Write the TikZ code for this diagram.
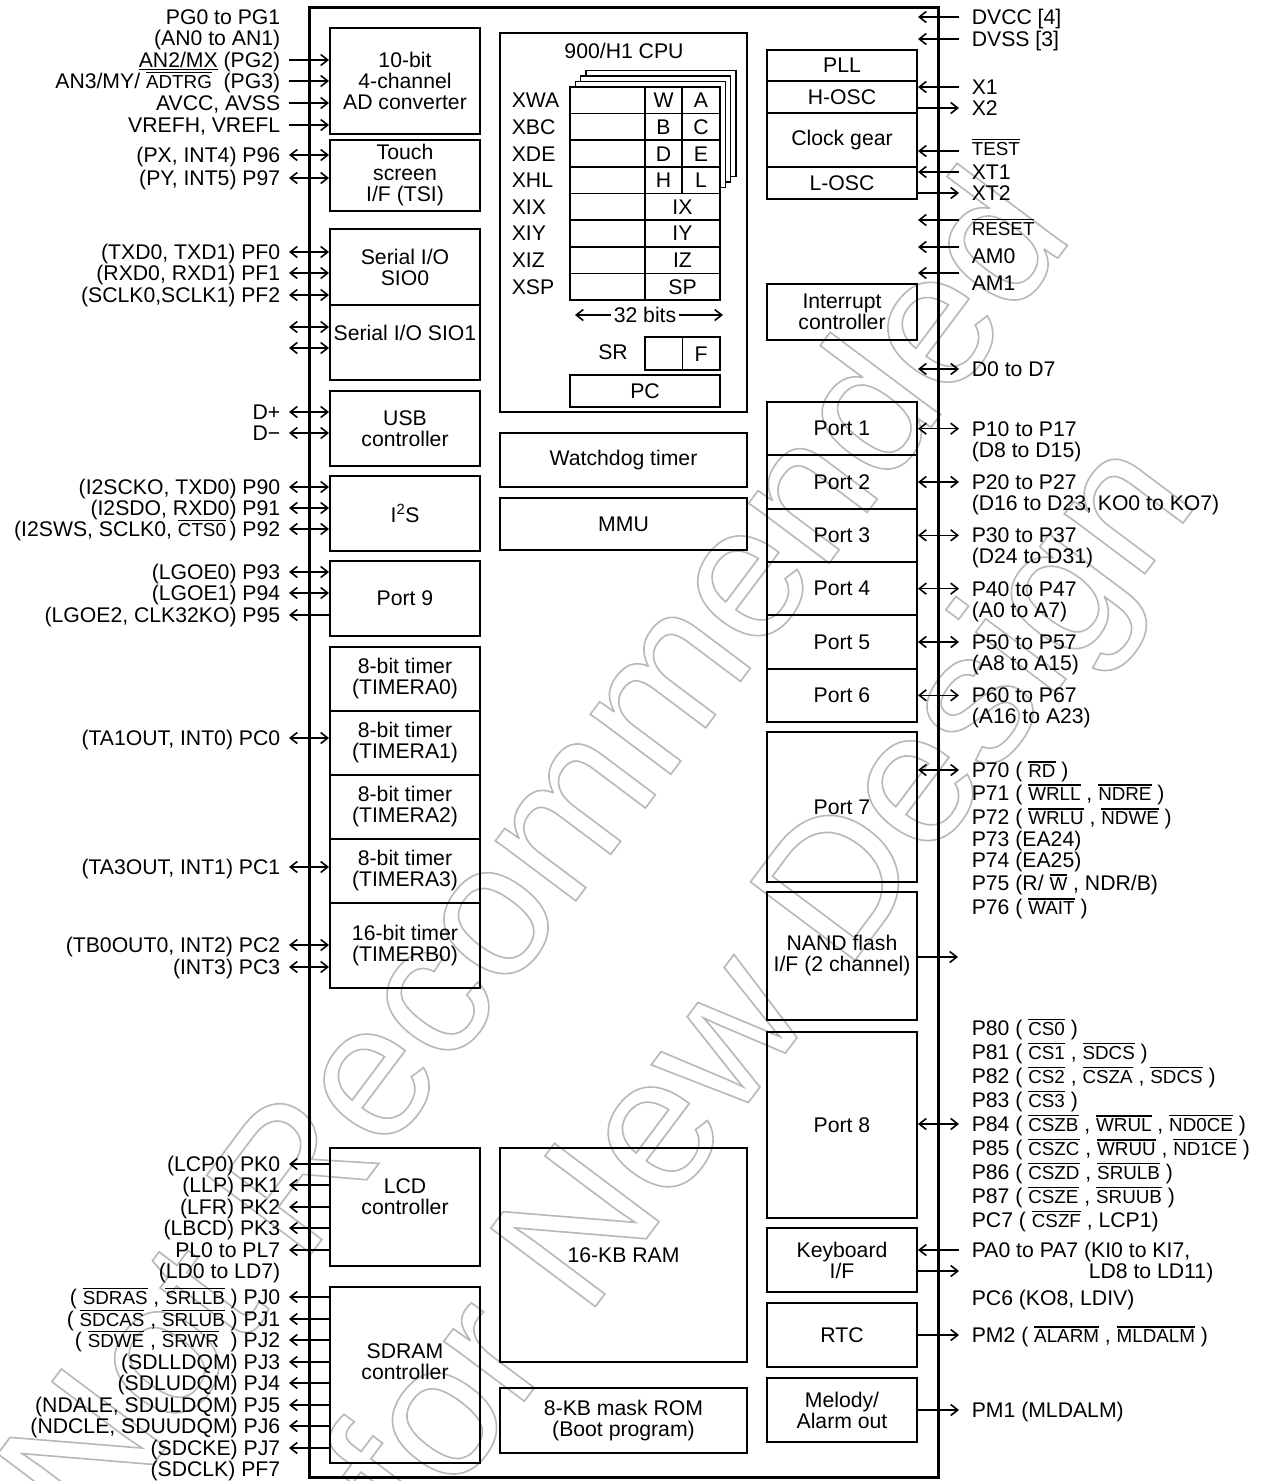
\documentclass[tikz,border=0pt]{standalone}
\usepackage{fontspec}
\setmainfont{Liberation Sans}
\usetikzlibrary{arrows.meta}
\newcommand{\pinfont}{\fontsize{21.2}{21}\selectfont}
\newcommand{\ovl}[1]{\leavevmode\vbox{\hrule height 1.2pt\kern 2pt\hbox{\fontsize{18.8}{18.8}\selectfont #1}}}
\newcommand{\outlined}[1]{\special{pdf:literal direct 1 Tr 1.6 w}#1\special{pdf:literal direct 0 Tr}}
\tikzset{
  blk/.style={draw, line width=2pt, inner sep=0pt, align=center, font=\pinfont},
  blkL/.style={blk, minimum width=150},
  blkC/.style={blk, minimum width=247},
  blkR/.style={blk, minimum width=150},
  txt/.style={inner sep=0pt, font=\pinfont, text height=15pt, text depth=0pt},
  pinl/.style={txt, anchor=east},
  pinr/.style={txt, anchor=west},
  stamp/.style={anchor=base, inner sep=0pt, rotate=53.13, text=black!28, font=\fontsize{190}{190}\selectfont},
}
\begin{document}
\begin{tikzpicture}[x=1pt,y=-1pt,line width=1.6pt,>={Straight Barb[length=7pt,width=11pt]}]
\useasboundingbox (0,0) rectangle (1261,1481);
\fill[white] (0,0) rectangle (1261,1481);

% stamp
\node[stamp] (stamp1) at (584,890) {\outlined{Not Recommended}};
\node[stamp] (stamp2) at (811,1019) {\outlined{for New Design}};

% chip outline
\node[draw, line width=3pt, minimum width=629, minimum height=1470] (chip) at (623.5,742) {};

% left column
\node[blkL, minimum height=106] (adc) at (405,81) {10-bit\\4-channel\\AD converter};
\node[blkL, minimum height=71] (tsi) at (405,175.5) {Touch\\screen\\I/F (TSI)};
\node[blkL, minimum height=76] (sio0) at (405,267) {Serial I/O\\SIO0};
\node[blkL, minimum height=75, text depth=19pt] (sio1) at (405,342.5) {Serial I/O SIO1};
\node[blkL, minimum height=75] (usb) at (405,428.5) {USB\\controller};
\node[blkL, minimum height=75] (i2s) at (405,513.5) {I\textsuperscript{2}S};
\node[blkL, minimum height=75] (port9) at (405,598.5) {Port 9};
\foreach \i in {0,...,3}
  \node[blkL, minimum height=64] (tma\i) at (405,679+64*\i) {8-bit timer\\(TIMERA\i)};
\node[blkL, minimum height=85] (tmb0) at (405,945.5) {16-bit timer\\(TIMERB0)};
\node[blkL, minimum height=118, text depth=20pt] (lcd) at (405,1207) {LCD\\controller};
\node[blkL, minimum height=176, text depth=26pt] (sdram) at (405,1375) {SDRAM\\controller};

% centre column
\node[blkC, minimum height=379] (cpu) at (623.5,222.5) {};
\node[blkC, minimum height=54] (wdt) at (623.5,460) {Watchdog timer};
\node[blkC, minimum height=52] (mmu) at (623.5,524) {MMU};
\node[blkC, minimum height=214] (ram) at (623.5,1255) {16-KB RAM};
\node[blkC, minimum height=65] (rom) at (623.5,1420.5) {8-KB mask ROM\\(Boot program)};

% right column
\node[blkR, minimum height=31] (pll) at (842,65.5) {PLL};
\node[blkR, minimum height=32] (hosc) at (842,97) {H-OSC};
\node[blkR, minimum height=54] (cg) at (842,140) {Clock gear};
\node[blkR, minimum height=32] (losc) at (842,183) {L-OSC};
\node[blkR, minimum height=56] (intc) at (842,312) {Interrupt\\controller};
\foreach \i in {1,...,6}
  \node[blkR, minimum height=53.33] (port\i) at (842,{402+53.33*(\i-0.5)}) {Port \i};
\node[blkR, minimum height=150] (port7) at (842,807) {Port 7};
\node[blkR, minimum height=128] (nand) at (842,956) {NAND flash\\I/F (2 channel)};
\node[blkR, minimum height=186] (port8) at (842,1125) {Port 8};
\node[blkR, minimum height=64] (kbd) at (842,1260) {Keyboard\\I/F};
\node[blkR, minimum height=64] (rtc) at (842,1335) {RTC};
\node[blkR, minimum height=64] (mel) at (842,1410) {Melody/\\Alarm out};

% CPU register file
\node[txt] (cputitle) at (624,51) {900/H1 CPU};
\foreach \k in {3,2,1}
  \draw[fill=white] (570+5.3*\k,87-5.5*\k) rectangle (720+5.3*\k,193-5.5*\k);
\draw[fill=white] (570,87) rectangle (720,300);
\foreach \r/\nm in {0/XWA,1/XBC,2/XDE,3/XHL,4/XIX,5/XIY,6/XIZ,7/XSP} {
  \draw (570,{87+26.625*\r}) -- (720,{87+26.625*\r});
  \node[txt, anchor=west] (r\nm) at (511,{100.3+26.625*\r}) {\nm};
}
\draw (645,87) -- (645,300);
\draw (682,87) -- (682,193.5);
\foreach \r/\a/\b in {0/W/A,1/B/C,2/D/E,3/H/L} {
  \node[txt] (b\a) at (663.5,{100.3+26.625*\r}) {\a};
  \node[txt] (b\b) at (701,{100.3+26.625*\r}) {\b};
}
\foreach \r/\a in {4/IX,5/IY,6/IZ,7/SP}
  \node[txt] (w\a) at (682.5,{100.3+26.625*\r}) {\a};
\node[txt, fill=white, inner xsep=2pt] (bits) at (645,315) {32 bits};
\coordinate (bitsL) at (575,315);
\coordinate (bitsR) at (723,315);
\draw[->] (bits.west) -- (bitsL);
\draw[->] (bits.east) -- (bitsR);
\node[txt] (srlbl) at (613,352) {SR};
\node[draw, minimum width=75, minimum height=33] (sr) at (682.5,353.5) {};
\draw (sr.north) -- (sr.south);
\node[txt] (flag) at (701,353.5) {F};
\node[draw, minimum width=150, minimum height=32, txt, text height=15pt] (pc) at (645,391) {PC};

% left pins
\node[pinl] (pg01) at (281,17) {PG0 to PG1};
\node[pinl] (an01) at (281,38) {(AN0 to AN1)};
\foreach \n/\y/\t in {pg2/60/{\underline{AN2/MX} (PG2)}, pg3/81/{AN3/MY/ \ovl{ADTRG}\ \ (PG3)},
    avcc/103/{AVCC, AVSS}, vref/125/{VREFH, VREFL}} {
  \node[pinl] (\n) at (281,\y) {\t};
  \draw[->] ([xshift=8]\n.east) -- (\n -| adc.west);
}
\foreach \n/\y/\t in {p96/155/{(PX, INT4) P96}, p97/178/{(PY, INT5) P97}} {
  \node[pinl] (\n) at (281,\y) {\t};
  \draw[<->] ([xshift=8]\n.east) -- (\n -| tsi.west);
}
\foreach \n/\y/\t in {pf0/252/{(TXD0, TXD1) PF0}, pf1/273/{(RXD0, RXD1) PF1}, pf2/295/{(SCLK0,SCLK1) PF2}} {
  \node[pinl] (\n) at (281,\y) {\t};
  \draw[<->] ([xshift=8]\n.east) -- (\n -| sio0.west);
}
\foreach \n/\y in {s1a/327, s1b/348} {
  \coordinate (\n) at (289,\y);
  \draw[<->] (\n) -- (\n -| sio1.west);
}
\foreach \n/\y/\t in {dp/412/{D+}, dm/433/{D−}} {
  \node[pinl] (\n) at (281,\y) {\t};
  \draw[<->] ([xshift=8]\n.east) -- (\n -| usb.west);
}
\foreach \n/\y/\t in {p90/487/{(I2SCKO, TXD0) P90}, p91/508/{(I2SDO, RXD0) P91},
    p92/529/{(I2SWS, SCLK0, \ovl{CTS0}\,) P92}} {
  \node[pinl] (\n) at (281,\y) {\t};
  \draw[<->] ([xshift=8]\n.east) -- (\n -| i2s.west);
}
\foreach \n/\y/\t in {p93/572/{(LGOE0) P93}, p94/593/{(LGOE1) P94}} {
  \node[pinl] (\n) at (281,\y) {\t};
  \draw[<->] ([xshift=8]\n.east) -- (\n -| port9.west);
}
\node[pinl] (p95) at (281,615) {(LGOE2, CLK32KO) P95};
\draw[<-] ([xshift=8]p95.east) -- (p95 -| port9.west);
\node[pinl] (pc0) at (281,738) {(TA1OUT, INT0) PC0};
\draw[<->] ([xshift=8]pc0.east) -- (pc0 -| tma1.west);
\node[pinl] (pc1) at (281,867) {(TA3OUT, INT1) PC1};
\draw[<->] ([xshift=8]pc1.east) -- (pc1 -| tma3.west);
\foreach \n/\y/\t in {pc2/945/{(TB0OUT0, INT2) PC2}, pc3/967/{(INT3) PC3}} {
  \node[pinl] (\n) at (281,\y) {\t};
  \draw[<->] ([xshift=8]\n.east) -- (\n -| tmb0.west);
}
\foreach \n/\y/\t in {pk0/1164/{(LCP0) PK0}, pk1/1185/{(LLP) PK1}, pk2/1207/{(LFR) PK2},
    pk3/1228/{(LBCD) PK3}, pl/1250/{PL0 to PL7}} {
  \node[pinl] (\n) at (281,\y) {\t};
  \draw[<-] ([xshift=8]\n.east) -- (\n -| lcd.west);
}
\node[pinl] (ld) at (281,1271) {(LD0 to LD7)};
\foreach \n/\y/\t in {pj0/1297/{( \ovl{SDRAS} , \ovl{SRLLB} ) PJ0}, pj1/1319/{( \ovl{SDCAS} , \ovl{SRLUB} ) PJ1},
    pj2/1340/{( \ovl{SDWE} , \ovl{SRWR}\ \ ) PJ2}, pj3/1362/{(SDLLDQM) PJ3}, pj4/1383/{(SDLUDQM) PJ4},
    pj5/1405/{(NDALE, SDULDQM) PJ5}, pj6/1426/{(NDCLE, SDUUDQM) PJ6}, pj7/1448/{(SDCKE) PJ7}} {
  \node[pinl] (\n) at (281,\y) {\t};
  \draw[<-] ([xshift=8]\n.east) -- (\n -| sdram.west);
}
\node[pinl] (pf7) at (281,1469) {(SDCLK) PF7};

% right pins
\node[pinr] (dvcc) at (971,17) {DVCC [4]};
\node[pinr] (dvss) at (971,39) {DVSS [3]};
\draw[->] ([xshift=-12]dvcc.west) -- (dvcc -| pll.east);
\draw[->] ([xshift=-12]dvss.west) -- (dvss -| pll.east);
\node[pinr] (x1) at (971,87) {X1};
\node[pinr] (x2) at (971,108) {X2};
\draw[->] ([xshift=-12]x1.west) -- (x1 -| hosc.east);
\draw[->] (x2 -| hosc.east) -- ([xshift=-12]x2.west);
\node[pinr] (test) at (971,148) {\ovl{TEST}};
\coordinate (testA) at (959,151);
\draw[->] (testA) -- (testA -| cg.east);
\node[pinr] (xt1) at (971,172) {XT1};
\node[pinr] (xt2) at (971,193) {XT2};
\draw[->] ([xshift=-12]xt1.west) -- (xt1 -| losc.east);
\draw[->] (xt2 -| losc.east) -- ([xshift=-12]xt2.west);
\foreach \n/\y/\ya/\t in {reset/228/220/{\ovl{RESET}}, am0/256/247/{AM0}, am1/283/273/{AM1}} {
  \node[pinr] (\n) at (971,\y) {\t};
  \coordinate (\n A) at (959,\ya);
  \draw[->] (\n A) -- (\n A -| pll.east);
}
\node[pinr] (d07) at (971,369) {D0 to D7};
\draw[<->] (d07 -| intc.east) -- ([xshift=-12]d07.west);
\foreach \i/\sub in {1/{(D8 to D15)}, 2/{(D16 to D23, KO0 to KO7)}, 3/{(D24 to D31)},
    4/{(A0 to A7)}, 5/{(A8 to A15)}, 6/{(A16 to A23)}} {
  \node[pinr] (pa\i) at (971,{402+53.33*(\i-0.5)}) {P\i0 to P\i7};
  \node[pinr] (pb\i) at (971,{423+53.33*(\i-0.5)}) {\sub};
  \draw[<->] (port\i.east) -- ([xshift=-12]pa\i.west);
}
\node[pinr] (p70) at (971,770) {P70 ( \ovl{RD} )};
\draw[<->] (p70 -| port7.east) -- ([xshift=-12]p70.west);
\foreach \n/\y/\t in {p71/793/{P71 ( \ovl{WRLL} , \ovl{NDRE} )}, p72/817/{P72 ( \ovl{WRLU} , \ovl{NDWE} )},
    p73/839/{P73 (EA24)}, p74/860/{P74 (EA25)}, p75/883/{P75 (R/ \ovl{W} , NDR/B)}, p76/907/{P76 ( \ovl{WAIT} )}}
  \node[pinr] (\n) at (971,\y) {\t};
\coordinate (nandA) at (958,957);
\draw[->] (nandA -| nand.east) -- (nandA);
\foreach \n/\y/\t in {p80/1028/{P80 ( \ovl{CS0} )}, p81/1052/{P81 ( \ovl{CS1} , \ovl{SDCS} )},
    p82/1076/{P82 ( \ovl{CS2} , \ovl{CSZA} , \ovl{SDCS} )}, p83/1100/{P83 ( \ovl{CS3} )},
    p84/1124/{P84 ( \ovl{CSZB} , \ovl{WRUL} , \ovl{ND0CE} )}, p85/1148/{P85 ( \ovl{CSZC} , \ovl{WRUU} , \ovl{ND1CE} )},
    p86/1172/{P86 ( \ovl{CSZD} , \ovl{SRULB} )}, p87/1196/{P87 ( \ovl{CSZE} , \ovl{SRUUB} )},
    pc7/1220/{PC7 ( \ovl{CSZF} , LCP1)}}
  \node[pinr] (\n) at (971,\y) {\t};
\draw[<->] (p84 -| port8.east) -- ([xshift=-12]p84.west);
\node[pinr] (pa07) at (971,1250) {PA0 to PA7 (KI0 to KI7,};
\node[pinr] (ld8) at (1088,1271) {LD8 to LD11)};
\node[pinr] (pc6) at (971,1298) {PC6 (KO8, LDIV)};
\coordinate (kbdA) at (959,1271);
\draw[->] ([xshift=-12]pa07.west) -- (pa07 -| kbd.east);
\draw[->] (kbdA -| kbd.east) -- (kbdA);
\node[pinr] (pm2) at (971,1335) {PM2 ( \ovl{ALARM} , \ovl{MLDALM} )};
\draw[->] (pm2 -| rtc.east) -- ([xshift=-12]pm2.west);
\node[pinr] (pm1) at (971,1410) {PM1 (MLDALM)};
\draw[->] (pm1 -| mel.east) -- ([xshift=-12]pm1.west);
\end{tikzpicture}
\end{document}
